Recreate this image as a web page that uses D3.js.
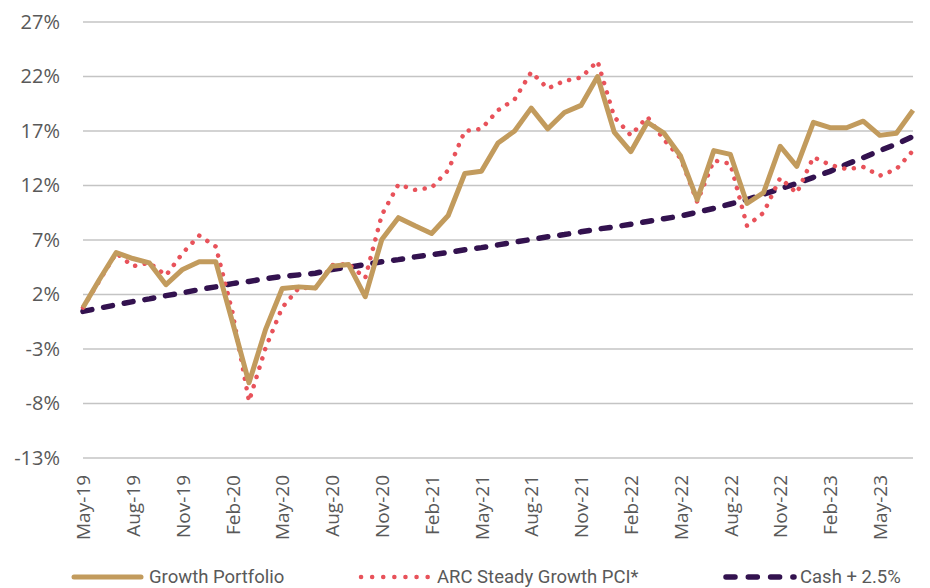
<!DOCTYPE html>
<html>
<head>
<meta charset="utf-8">
<script src="https://cdn.jsdelivr.net/npm/d3@7"></script>
<style>
  body { margin: 0; background: #fff; }
  svg { display: block; font-family: "Open Sans", sans-serif; }
</style>
</head>
<body>
<script>

// monthly, May-19 .. Jul-23
var months = ["May-19","Jun-19","Jul-19","Aug-19","Sep-19","Oct-19","Nov-19","Dec-19",
  "Jan-20","Feb-20","Mar-20","Apr-20","May-20","Jun-20","Jul-20","Aug-20","Sep-20","Oct-20","Nov-20","Dec-20",
  "Jan-21","Feb-21","Mar-21","Apr-21","May-21","Jun-21","Jul-21","Aug-21","Sep-21","Oct-21","Nov-21","Dec-21",
  "Jan-22","Feb-22","Mar-22","Apr-22","May-22","Jun-22","Jul-22","Aug-22","Sep-22","Oct-22","Nov-22","Dec-22",
  "Jan-23","Feb-23","Mar-23","Apr-23","May-23","Jun-23","Jul-23"];

var growth = [0.8,3.4,5.85,5.3,4.9,2.9,4.3,5.0,
  5.0,-0.5,-6.1,-1.2,2.55,2.7,2.6,4.6,4.75,1.8,7.05,9.05,
  8.3,7.6,9.25,13.1,13.3,15.9,17.0,19.1,17.2,18.7,19.35,22.0,
  16.9,15.1,17.8,16.8,14.7,10.7,15.2,14.85,10.35,11.35,15.6,13.75,
  17.8,17.3,17.3,17.9,16.6,16.8,18.9];

var arc = [0.8,3.3,5.8,4.6,4.9,3.75,5.8,7.4,
  6.4,0.4,-7.8,-2.9,0.8,2.6,2.6,4.7,4.8,3.5,9.3,12.1,
  11.6,11.8,13.4,17.0,17.2,18.9,19.9,22.4,20.9,21.6,21.9,23.4,
  18.3,16.6,18.3,16.2,14.5,10.5,14.3,14.0,8.3,9.5,12.7,11.3,
  14.6,13.9,13.5,13.7,12.9,13.5,15.2];

var cash = [0.45,0.75,1.05,1.35,1.6,1.9,2.15,2.45,
  2.7,3.0,3.2,3.45,3.65,3.8,3.95,4.3,4.5,4.75,5.0,5.2,
  5.45,5.65,5.85,6.1,6.3,6.55,6.8,7.05,7.3,7.5,7.75,8.0,
  8.2,8.45,8.7,8.95,9.2,9.55,9.9,10.3,10.7,11.2,11.7,12.2,
  12.75,13.3,13.95,14.55,15.2,15.8,16.5];

var yTicks = [-13,-8,-3,2,7,12,17,22,27];
var xLabels = ["May-19","Aug-19","Nov-19","Feb-20","May-20","Aug-20","Nov-20","Feb-21",
  "May-21","Aug-21","Nov-21","Feb-22","May-22","Aug-22","Nov-22","Feb-23","May-23"];

var W = 930, H = 588;
var mLeft = 83, mRight = 913, mTop = 22, mBottom = 458;

var gold = "#c29b5d", red = "#e8525a", purple = "#33124f";

var svg = d3.select("body").append("svg")
    .attr("width", W)
    .attr("height", H);

var x = d3.scalePoint().domain(months).range([mLeft, mRight]);
var y = d3.scaleLinear().domain([-13, 27]).range([mBottom, mTop]);

// grid
svg.append("g")
    .selectAll("line")
    .data(yTicks)
    .join("line")
    .attr("x1", mLeft)
    .attr("x2", mRight)
    .attr("y1", d => y(d))
    .attr("y2", d => y(d))
    .attr("stroke", "#c4c4c4")
    .attr("stroke-width", 1.3);

// y axis labels
var yAxis = svg.append("g")
    .attr("transform", "translate(" + (mLeft - 20) + ",0)")
    .call(d3.axisLeft(y).tickValues(yTicks).tickSize(0).tickFormat(d => d + "%"));
yAxis.select(".domain").remove();
yAxis.selectAll("text")
    .attr("font-size", 20)
    .attr("font-family", "Open Sans")
    .attr("fill", "#595959");

// x axis labels
var xAxis = svg.append("g")
    .attr("transform", "translate(0," + (mBottom + 17) + ")")
    .call(d3.axisBottom(x).tickValues(xLabels).tickSize(0));
xAxis.select(".domain").remove();
xAxis.selectAll("text")
    .attr("font-size", 19)
    .attr("font-family", "Open Sans")
    .attr("fill", "#595959")
    .attr("text-anchor", "end")
    .attr("dy", "0.35em")
    .attr("transform", "rotate(-90)")
    .attr("y", 0)
    .attr("x", 0);

var line = d3.line()
    .x((d, i) => x(months[i]))
    .y(d => y(d));

svg.append("path")
    .datum(cash)
    .attr("d", line)
    .attr("fill", "none")
    .attr("stroke", purple)
    .attr("stroke-width", 5.5)
    .attr("stroke-dasharray", "9,12")
    .attr("stroke-linecap", "round");

svg.append("path")
    .datum(arc)
    .attr("d", line)
    .attr("fill", "none")
    .attr("stroke", red)
    .attr("stroke-width", 4.5)
    .attr("stroke-dasharray", "0.1,9.6")
    .attr("stroke-linecap", "round");

svg.append("path")
    .datum(growth)
    .attr("d", line)
    .attr("fill", "none")
    .attr("stroke", gold)
    .attr("stroke-width", 5)
    .attr("stroke-linejoin", "round");

// legend
var legend = [
  {name: "Growth Portfolio", x1: 74, x2: 141, tx: 149, color: gold, dash: null, w: 5},
  {name: "ARC Steady Growth PCI*", x1: 361, x2: 428, tx: 437, color: red, dash: "0.1,11", w: 4.5},
  {name: "Cash + 2.5%", x1: 726, x2: 794, tx: 800, color: purple, dash: "9,13.3", w: 5.5}
];
var lg = svg.append("g").selectAll("g").data(legend).join("g")
    .attr("transform", "translate(0,577)");
lg.append("line")
    .attr("x1", d => d.x1).attr("x2", d => d.x2)
    .attr("stroke", d => d.color)
    .attr("stroke-width", d => d.w)
    .attr("stroke-linecap", "round")
    .attr("stroke-dasharray", d => d.dash);
lg.append("text")
    .attr("x", d => d.tx)
    .attr("dy", "0.33em")
    .attr("font-size", 18.5)
    .attr("font-family", "Roboto")
    .attr("fill", "#595959")
    .text(d => d.name);

</script>
</body>
</html>
